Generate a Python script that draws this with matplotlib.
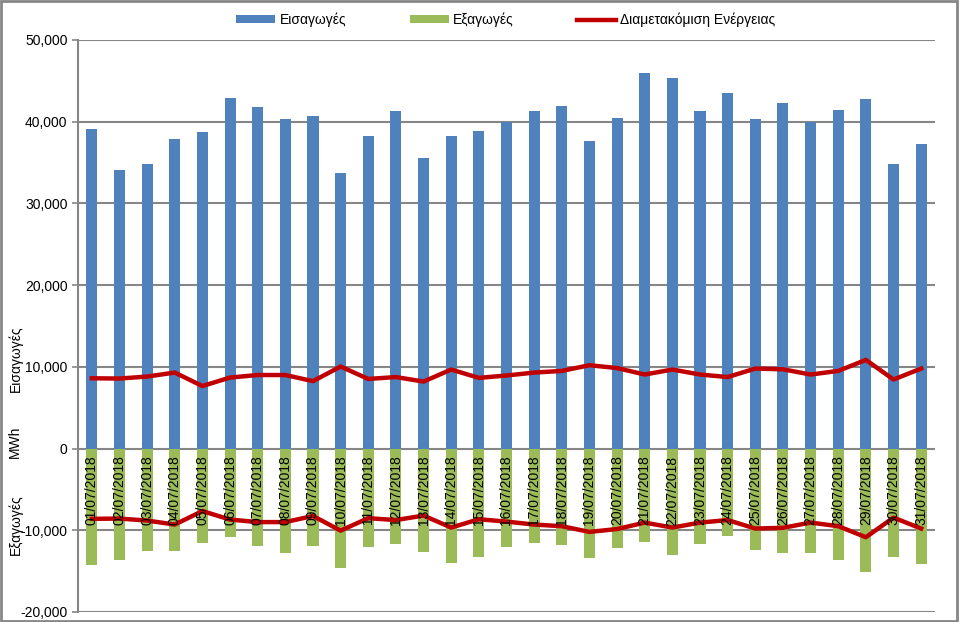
import matplotlib
matplotlib.use("Agg")
import matplotlib.pyplot as plt
from matplotlib.patches import Rectangle
from matplotlib.ticker import FuncFormatter

dates = ["%02d/07/2018" % d for d in range(1, 32)]

imports = [39050, 34150, 34880, 37940, 38800, 42960, 41860, 40390, 40640, 33780,
           38190, 41370, 35500, 38190, 38920, 40020, 41370, 41980, 37700, 40510,
           46020, 45290, 41370, 43570, 40390, 42230, 40020, 41490, 42720, 34880,
           37330]

exports = [-14200, -13590, -12480, -12480, -11500, -10770, -11870, -12730, -11870, -14570,
           -12000, -11630, -12610, -13950, -13220, -12000, -11500, -11750, -13340, -12120,
           -11380, -12970, -11630, -10650, -12360, -12730, -12730, -13590, -15050, -13220,
           -14080]

transit = [8600, 8570, 8810, 9300, 7650, 8690, 9000, 9000, 8250, 10040,
           8520, 8750, 8200, 9670, 8650, 8940, 9300, 9500, 10200, 9850,
           9060, 9670, 9060, 8750, 9790, 9700, 9060, 9500, 10850, 8450,
           9790]

plt.rcParams['font.family'] = ['Liberation Sans', 'DejaVu Sans']

fig = plt.figure(figsize=(9.6, 6.22), dpi=100)
ax = fig.add_axes([0.08125, 0.0161, 0.8927, 0.9196])

x = list(range(len(dates)))
grid_c = '#868686'

b1 = ax.bar(x, imports, width=0.4, color='#4F81BD', label='Εισαγωγές', zorder=2)
b2 = ax.bar(x, exports, width=0.4, color='#9BBB59', label='Εξαγωγές', zorder=2)
ln, = ax.plot(x, transit, color='#C00000', lw=3.2, label='Διαμετακόμιση Ενέργειας', zorder=3)
ax.plot(x, [-v for v in transit], color='#C00000', lw=3.2, zorder=3)

for i, d in enumerate(dates):
    ax.annotate(d, (i, 0), xytext=(0, -5), textcoords='offset points',
                rotation=90, ha='center', va='top', fontsize=10, zorder=4)

ax.set_xlim(-0.5, len(dates) - 0.5)
ax.set_ylim(-20000, 50000)
ax.set_yticks(range(-20000, 50001, 10000))
ax.yaxis.set_major_formatter(FuncFormatter(lambda v, p: f"{int(v):,}"))
ax.tick_params(axis='y', labelsize=10, length=4, color=grid_c, width=1.2)
ax.set_xticks([])
ax.grid(axis='y', color=grid_c, lw=1.5, zorder=0)
for s in ['top', 'right', 'bottom']:
    ax.spines[s].set_visible(False)
ax.spines['left'].set_color(grid_c)
ax.spines['left'].set_linewidth(1.5)

fig.text(0.016, 0.424, 'Εισαγωγές', rotation=90, ha='center', va='center', fontsize=10)
fig.text(0.016, 0.289, 'MWh', rotation=90, ha='center', va='center', fontsize=10)
fig.text(0.016, 0.156, 'Εξαγωγές', rotation=90, ha='center', va='center', fontsize=10)

fig.legend([b1, b2, ln], ['Εισαγωγές', 'Εξαγωγές', 'Διαμετακόμιση Ενέργειας'],
           loc='upper center', bbox_to_anchor=(0.527, 1.0), ncol=3, frameon=False,
           fontsize=10, handlelength=2.8, columnspacing=4.6, handleheight=0.45,
           handletextpad=0.3)

fig.patches.append(Rectangle((0.001, 0.001), 0.996, 0.997, transform=fig.transFigure,
                             fill=False, edgecolor=grid_c, lw=2))

fig.savefig('out.png', dpi=100)
